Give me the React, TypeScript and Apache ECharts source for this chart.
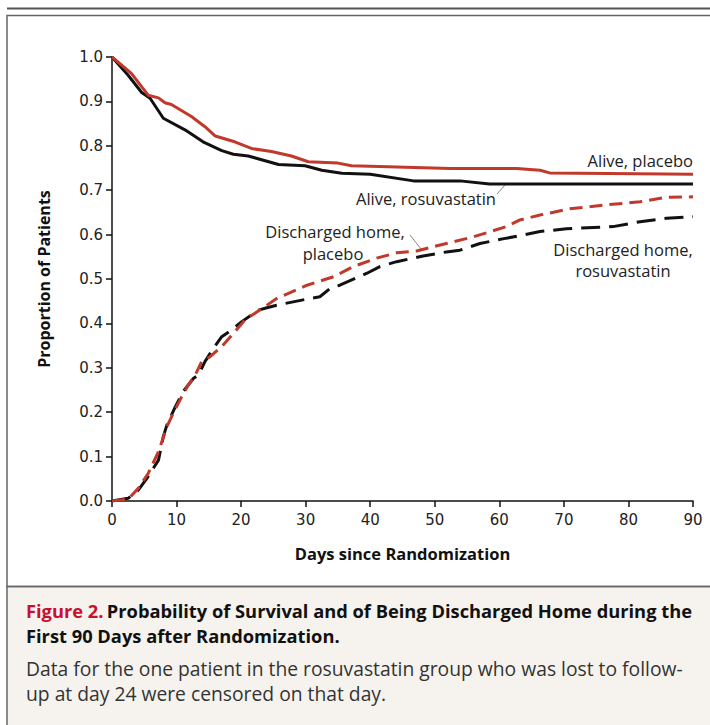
import React, { useEffect, useRef } from "react";
import * as echarts from "echarts";

const xTicks = [0, 10, 20, 30, 40, 50, 60, 70, 80, 90];

const survPlaceboDays = [0, 3, 5.6, 7.2, 8.2, 9.2, 12.3, 14.4, 16, 19, 21.6, 24.7, 27.8, 30.4, 35, 37.1, 40, 52.4, 62.7, 66.3, 67.8, 90];
const survPlaceboVals = [1.0, 0.963, 0.914, 0.908, 0.897, 0.893, 0.866, 0.843, 0.822, 0.809, 0.794, 0.787, 0.777, 0.764, 0.761, 0.755, 0.754, 0.749, 0.749, 0.745, 0.739, 0.736];

const survRosuDays = [0, 2.5, 4.6, 5.9, 7.95, 11.3, 14.1, 17, 18.8, 21.1, 25.8, 29.9, 32.5, 35.6, 40, 46.7, 53.9, 58.5, 90];
const survRosuVals = [1.0, 0.959, 0.92, 0.907, 0.862, 0.836, 0.809, 0.789, 0.781, 0.777, 0.758, 0.755, 0.745, 0.738, 0.736, 0.721, 0.721, 0.714, 0.714];

const dischPlaceboDays = [0, 2.5, 4.1, 5.6, 7.2, 8.5, 9.5, 10.8, 11.8, 12.9, 13.9, 15.2, 17, 19, 20.6, 23.7, 25.5, 30.2, 34.3, 37.4, 41, 44.1, 47.2, 49.3, 51.8, 56, 61.1, 63.2, 66.3, 70.9, 76.6, 81.8, 85.9, 90];
const dischPlaceboVals = [0, 0.004, 0.029, 0.062, 0.111, 0.167, 0.198, 0.235, 0.261, 0.284, 0.314, 0.325, 0.348, 0.381, 0.408, 0.438, 0.456, 0.486, 0.505, 0.528, 0.547, 0.559, 0.563, 0.571, 0.58, 0.595, 0.618, 0.633, 0.644, 0.658, 0.667, 0.674, 0.684, 0.685];

const dischRosuDays = [0, 2.5, 4.1, 5.4, 7.2, 7.95, 8.5, 9.8, 11, 12.6, 13.4, 14.4, 15.7, 17, 18.5, 20.1, 22.7, 23.7, 25.5, 29.6, 32.2, 33.8, 35.3, 39.5, 41.5, 44.1, 48.2, 51.8, 53.9, 57, 61.1, 63.7, 66.3, 70.4, 74.6, 77.6, 81.8, 85.9, 90];
const dischRosuVals = [0, 0.006, 0.025, 0.051, 0.092, 0.145, 0.171, 0.212, 0.246, 0.276, 0.284, 0.314, 0.344, 0.37, 0.385, 0.404, 0.43, 0.434, 0.441, 0.453, 0.46, 0.479, 0.486, 0.513, 0.528, 0.539, 0.552, 0.561, 0.565, 0.58, 0.592, 0.599, 0.607, 0.613, 0.616, 0.618, 0.629, 0.637, 0.64];

const RED = "#c0392b";
const BLACK = "#111111";
const FONT = "'Open Sans', Lato, sans-serif";
const TICKFONT = "'DejaVu Sans', sans-serif";

const zip = (xs: number[], ys: number[]) => xs.map((x, i) => [x, ys[i]]);

export default function App() {
  const ref = useRef<HTMLDivElement>(null);
  useEffect(() => {
    if (!ref.current) return;
    const chart = echarts.init(ref.current, null, { renderer: "svg" });
    const lbl = (text: string, x: number, y: number, align: string) => ({
      type: "text",
      x,
      y,
      style: { text, font: `16.5px ${FONT}`, fill: "#222", textAlign: align, textVerticalAlign: "middle" },
    });
    const option: any = {
      animation: false,
      backgroundColor: "#ffffff",
      textStyle: { fontFamily: FONT },
      grid: { left: 112, top: 57, right: 17, bottom: 224, containLabel: false },
      xAxis: {
        type: "value",
        min: 0,
        max: 90,
        interval: 10,
        name: "Days since Randomization",
        nameLocation: "middle",
        nameGap: 44,
        nameTextStyle: { fontFamily: FONT, fontSize: 16.5, fontWeight: "bold", color: "#111" },
        axisLine: { show: true, onZero: false, lineStyle: { color: "#111", width: 1.5 } },
        axisTick: { show: true, length: 6, lineStyle: { color: "#111", width: 1.5 } },
        axisLabel: { fontFamily: TICKFONT, fontSize: 15, color: "#222", margin: 11, formatter: (v: number) => (xTicks.includes(v) ? String(v) : "") },
        splitLine: { show: false },
      },
      yAxis: {
        type: "value",
        min: 0,
        max: 1,
        interval: 0.1,
        name: "Proportion of Patients",
        nameLocation: "middle",
        nameGap: 60,
        nameRotate: 90,
        nameTextStyle: { fontFamily: FONT, fontSize: 16, fontWeight: "bold", color: "#111" },
        axisLine: { show: true, lineStyle: { color: "#111", width: 1.5 } },
        axisTick: { show: true, length: 6, lineStyle: { color: "#111", width: 1.5 } },
        axisLabel: { fontFamily: TICKFONT, fontSize: 15, color: "#222", margin: 9, formatter: (v: number) => v.toFixed(1) },
        splitLine: { show: false },
      },
      series: [
        {
          name: "Alive, placebo",
          type: "line",
          data: zip(survPlaceboDays, survPlaceboVals),
          showSymbol: false,
          lineStyle: { color: RED, width: 3 },
          z: 3,
        },
        {
          name: "Alive, rosuvastatin",
          type: "line",
          data: zip(survRosuDays, survRosuVals),
          showSymbol: false,
          lineStyle: { color: BLACK, width: 3 },
          z: 2,
        },
        {
          name: "Discharged home, placebo",
          type: "line",
          data: zip(dischPlaceboDays, dischPlaceboVals),
          showSymbol: false,
          lineStyle: { color: RED, width: 3, type: [13, 7] },
          z: 3,
        },
        {
          name: "Discharged home, rosuvastatin",
          type: "line",
          data: zip(dischRosuDays, dischRosuVals),
          showSymbol: false,
          lineStyle: { color: BLACK, width: 3, type: [19, 9] },
          z: 2,
        },
      ],
      graphic: [
        { type: "rect", shape: { x: 7, y: 7.5, width: 720, height: 2 }, style: { fill: "#555" }, silent: true },
        { type: "rect", shape: { x: 7, y: 15.5, width: 720, height: 571 }, style: { fill: "none", stroke: "#666", lineWidth: 1.5 }, silent: true },
        { type: "rect", shape: { x: 7, y: 586.5, width: 720, height: 160 }, style: { fill: "#f6f3ee", stroke: "#666", lineWidth: 1.5 }, silent: true, z: -1 },
        lbl("Alive, placebo", 693, 160, "right"),
        lbl("Alive, rosuvastatin", 356, 198, "left"),
        { type: "line", shape: { x1: 497, y1: 194, x2: 505, y2: 185 }, style: { stroke: "#888", lineWidth: 1 } },
        lbl("Discharged home,", 335, 231, "center"),
        lbl("placebo", 333, 253, "center"),
        { type: "line", shape: { x1: 410, y1: 235, x2: 421, y2: 249 }, style: { stroke: "#888", lineWidth: 1 } },
        lbl("Discharged home,", 623, 249, "center"),
        lbl("rosuvastatin", 623, 270, "center"),
        {
          type: "text",
          x: 26,
          y: 610,
          style: {
            text: "{r|Figure 2.} {b|Probability of Survival and of Being Discharged Home during the}",
            textVerticalAlign: "middle",
            rich: {
              r: { font: `bold 18.3px ${FONT}`, fill: "#c8102e" },
              b: { font: `bold 18.3px ${FONT}`, fill: "#111" },
            },
          },
        },
        { type: "text", x: 26, y: 635, style: { text: "First 90 Days after Randomization.", font: `bold 18.3px ${FONT}`, fill: "#111", textVerticalAlign: "middle" } },
        { type: "text", x: 26, y: 668, style: { text: "Data for the one patient in the rosuvastatin group who was lost to follow-", font: `19.3px ${FONT}`, fill: "#333", textVerticalAlign: "middle" } },
        { type: "text", x: 26, y: 693, style: { text: "up at day 24 were censored on that day.", font: `19.3px ${FONT}`, fill: "#333", textVerticalAlign: "middle" } },
      ],
    };
    chart.setOption(option);
    return () => chart.dispose();
  }, []);
  return <div ref={ref} style={{ position: "absolute", left: 0, top: 0, width: 710, height: 725 }} />;
}
